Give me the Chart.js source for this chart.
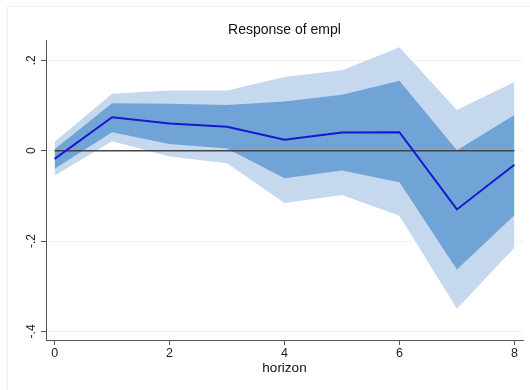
<!DOCTYPE html>
<html>
<head>
<meta charset="utf-8">
<script src="https://cdn.jsdelivr.net/npm/chart.js@4.4.1/dist/chart.umd.min.js"></script>
<style>
  body { margin: 0; background: #fff; }
  #wrap { position: relative; width: 530px; height: 390px; }
  #frame { position: absolute; left: 7px; top: 6px; width: 523px; height: 384px; border-left: 1px solid #f0f0f0; border-top: 1px solid #f0f0f0; box-sizing: border-box; pointer-events: none; }
</style>
</head>
<body>
<div id="wrap">
  <canvas id="grafico"></canvas>
  <div id="frame"></div>
</div>
<script>
const horizon = [0, 1, 2, 3, 4, 5, 6, 7, 8];
const irf = [-0.018, 0.074, 0.060, 0.053, 0.024, 0.040, 0.041, -0.130, -0.031];
const inner_hi = [0.003, 0.105, 0.104, 0.101, 0.109, 0.124, 0.155, 0.001, 0.079];
const inner_lo = [-0.040, 0.041, 0.015, 0.005, -0.061, -0.044, -0.070, -0.263, -0.143];
const outer_hi = [0.020, 0.126, 0.133, 0.133, 0.163, 0.178, 0.229, 0.090, 0.152];
const outer_lo = [-0.055, 0.021, -0.013, -0.028, -0.116, -0.098, -0.144, -0.350, -0.215];
const zeroLine = [0, 0, 0, 0, 0, 0, 0, 0, 0];
const xTicks = [0, 2, 4, 6, 8];
const yTicks = [-0.4, -0.2, 0, 0.2];
const yTickLabels = ['-.4', '-.2', '0', '.2'];

const puntos = arr => horizon.map((h, i) => ({ x: h, y: arr[i] }));

const FONT = "'Liberation Sans', Arial, sans-serif";

// rotated y labels like stata
const yLabels = {
    id: 'yLabels',
    afterDraw(chart) {
        const s = chart.scales.y;
        const ctx = chart.ctx;
        ctx.save();
        ctx.font = `12px ${FONT}`;
        ctx.fillStyle = '#222';
        ctx.textAlign = 'center';
        ctx.textBaseline = 'middle';
        yTicks.forEach((v, i) => {
            ctx.save();
            ctx.translate(s.right - 14.5, s.getPixelForValue(v));
            ctx.rotate(-Math.PI / 2);
            ctx.fillText(yTickLabels[i], 0, 0);
            ctx.restore();
        });
        ctx.restore();
    }
};

new Chart(document.getElementById('grafico'), {
    type: 'line',
    data: {
        datasets: [
            { data: puntos(outer_hi), fill: '+1', backgroundColor: '#c6d8ed', borderWidth: 0, pointRadius: 0, order: 5 },
            { data: puntos(outer_lo), fill: false, borderWidth: 0, pointRadius: 0, order: 5 },
            { data: puntos(inner_hi), fill: '+1', backgroundColor: '#70a4d7', borderWidth: 0, pointRadius: 0, order: 4 },
            { data: puntos(inner_lo), fill: false, borderWidth: 0, pointRadius: 0, order: 4 },
            { data: puntos(zeroLine), borderColor: '#444444', borderWidth: 1.6, pointRadius: 0, fill: false, order: 2 },
            { data: puntos(irf), borderColor: '#1818cf', borderWidth: 2, pointRadius: 0, fill: false, order: 1 }
        ]
    },
    options: {
        responsive: true,
        maintainAspectRatio: false,
        animation: false,
        layout: { padding: { left: 0, right: 7, top: 0, bottom: 5 } },
        plugins: {
            legend: { display: false },
            tooltip: { enabled: false },
            title: {
                display: true,
                text: 'Response of empl',
                fullSize: false,
                color: '#111',
                font: { family: FONT, size: 14, weight: 'normal' },
                padding: { top: 21.6, bottom: 1.6 }
            }
        },
        elements: { line: { tension: 0 } },
        scales: {
            x: {
                type: 'linear',
                min: -0.15,
                max: 8.15,
                afterBuildTicks: s => { s.ticks = xTicks.map(v => ({ value: v })); },
                afterFit: s => { s.height = 45; },
                grid: { display: true, drawOnChartArea: false, tickLength: 5, tickColor: '#555', color: '#555' },
                border: { color: '#555', width: 1 },
                ticks: { color: '#222', font: { family: FONT, size: 12.5 }, padding: 1, maxRotation: 0 },
                title: { display: true, text: 'horizon', color: '#111', font: { family: FONT, size: 13.5 }, padding: { top: 0, bottom: 9 } }
            },
            y: {
                min: -0.419,
                max: 0.245,
                afterBuildTicks: s => { s.ticks = yTicks.map(v => ({ value: v })); },
                afterFit: s => { s.width = 46; },
                grid: { color: '#eaf3f3', lineWidth: 1, tickLength: 5, tickColor: '#555' },
                border: { color: '#555', width: 1 },
                ticks: { display: false }
            }
        }
    },
    plugins: [yLabels]
});
</script>
</body>
</html>
